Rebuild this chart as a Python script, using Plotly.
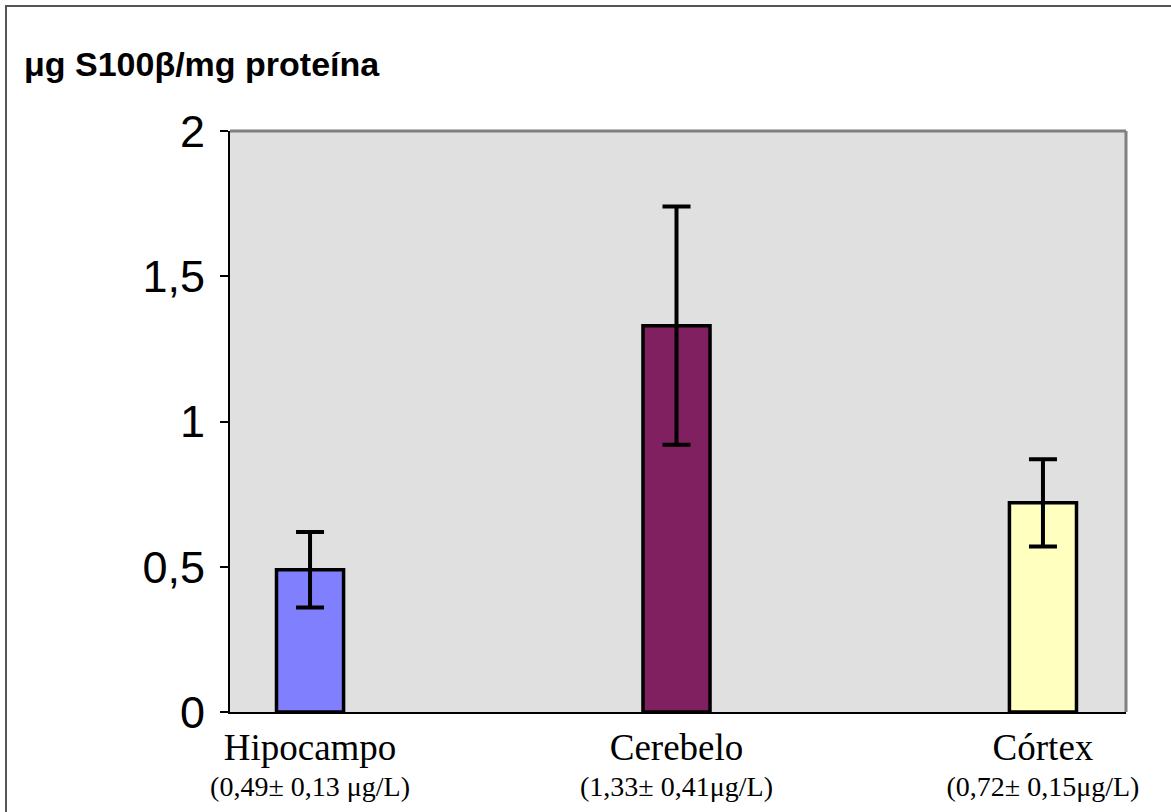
import plotly.graph_objects as go

categories = ["Hipocampo", "Cerebelo", "Córtex"]
sublabels = ["(0,49± 0,13 μg/L)", "(1,33± 0,41μg/L)", "(0,72± 0,15μg/L)"]
values = [0.49, 1.33, 0.72]
errors = [0.13, 0.41, 0.15]
colors = ["#8080FF", "#802060", "#FFFFC0"]
y_ticks = [0, 0.5, 1, 1.5, 2]
title_text = "<b>μg S100β/mg proteína</b>"

W, H = 1171, 812
ML, MR, MT, MB = 230, 45, 131, 100
PW, PH = W - ML - MR, H - MT - MB

def px_x(p):
    return (p - ML) / PW

def px_y(p):
    return (H - MB - p) / PH

ticktext = [f"<span style='font-size:37px'>{c}</span><br>{s}" for c, s in zip(categories, sublabels)]

fig = go.Figure()
fig.add_trace(go.Bar(
    x=list(range(len(categories))),
    y=values,
    width=0.183,
    marker=dict(color=colors, line=dict(color="black", width=3.5)),
    error_y=dict(type="data", array=errors, visible=True, color="black", thickness=4, width=14),
    showlegend=False,
    hoverinfo="skip",
))

fig.update_layout(
    width=W, height=H,
    margin=dict(l=ML, r=MR, t=MT, b=MB, autoexpand=False),
    paper_bgcolor="white",
    plot_bgcolor="#E0E0E0",
    separators=", ",
    font=dict(family="Liberation Sans, Arial, sans-serif", color="black"),
    xaxis=dict(
        range=[-0.2184, 2.2266],
        tickvals=list(range(len(categories))),
        ticktext=ticktext,
        tickfont=dict(family="Liberation Serif, Times New Roman, serif", size=28, color="black"),
        ticks="",
        ticklabelstandoff=12,
        showline=True, linecolor="black", linewidth=2,
        showgrid=False, zeroline=False, fixedrange=True,
    ),
    xaxis2=dict(
        overlaying="x", anchor="y", side="bottom",
        range=[0, 3], tickvals=[0, 1, 2, 3],
        ticks="outside", ticklen=13, tickwidth=1.5, tickcolor="black",
        showticklabels=False, showgrid=False, zeroline=False, showline=False,
    ),
    xaxis3=dict(
        overlaying="x", anchor="y", side="bottom",
        range=[0, 3], tickvals=[0, 1, 2, 3],
        ticks="inside", ticklen=12, tickwidth=1.5, tickcolor="black",
        showticklabels=False, showgrid=False, zeroline=False, showline=False,
    ),
    yaxis=dict(
        range=[0, 2],
        tickvals=y_ticks,
        tickfont=dict(size=45, color="black"),
        ticks="outside", ticklen=8, tickwidth=1.5, tickcolor="black",
        ticklabelstandoff=6,
        showline=True, linecolor="black", linewidth=2,
        showgrid=False, zeroline=False, fixedrange=True,
    ),
    yaxis2=dict(
        overlaying="y", anchor="x", side="left",
        range=[0, 2], tickvals=y_ticks,
        ticks="inside", ticklen=8, tickwidth=1.5, tickcolor="black",
        showticklabels=False, showgrid=False, zeroline=False, showline=False,
    ),
    shapes=[
        dict(type="line", xref="paper", yref="paper", x0=0, x1=1, y0=1, y1=1,
             line=dict(color="#808080", width=3)),
        dict(type="line", xref="paper", yref="paper", x0=1, x1=1, y0=0, y1=1,
             line=dict(color="#808080", width=3)),
        dict(type="rect", xref="paper", yref="paper",
             x0=px_x(6), x1=px_x(W + 20), y0=px_y(H + 20), y1=px_y(6),
             line=dict(color="#555555", width=2)),
    ],
    annotations=[
        dict(text=title_text, xref="paper", yref="paper",
             x=px_x(22), y=px_y(64), xanchor="left", yanchor="middle",
             showarrow=False, font=dict(size=34, color="black",
                                        family="Liberation Sans, Arial, sans-serif")),
    ],
)

fig.write_html("out.html")
